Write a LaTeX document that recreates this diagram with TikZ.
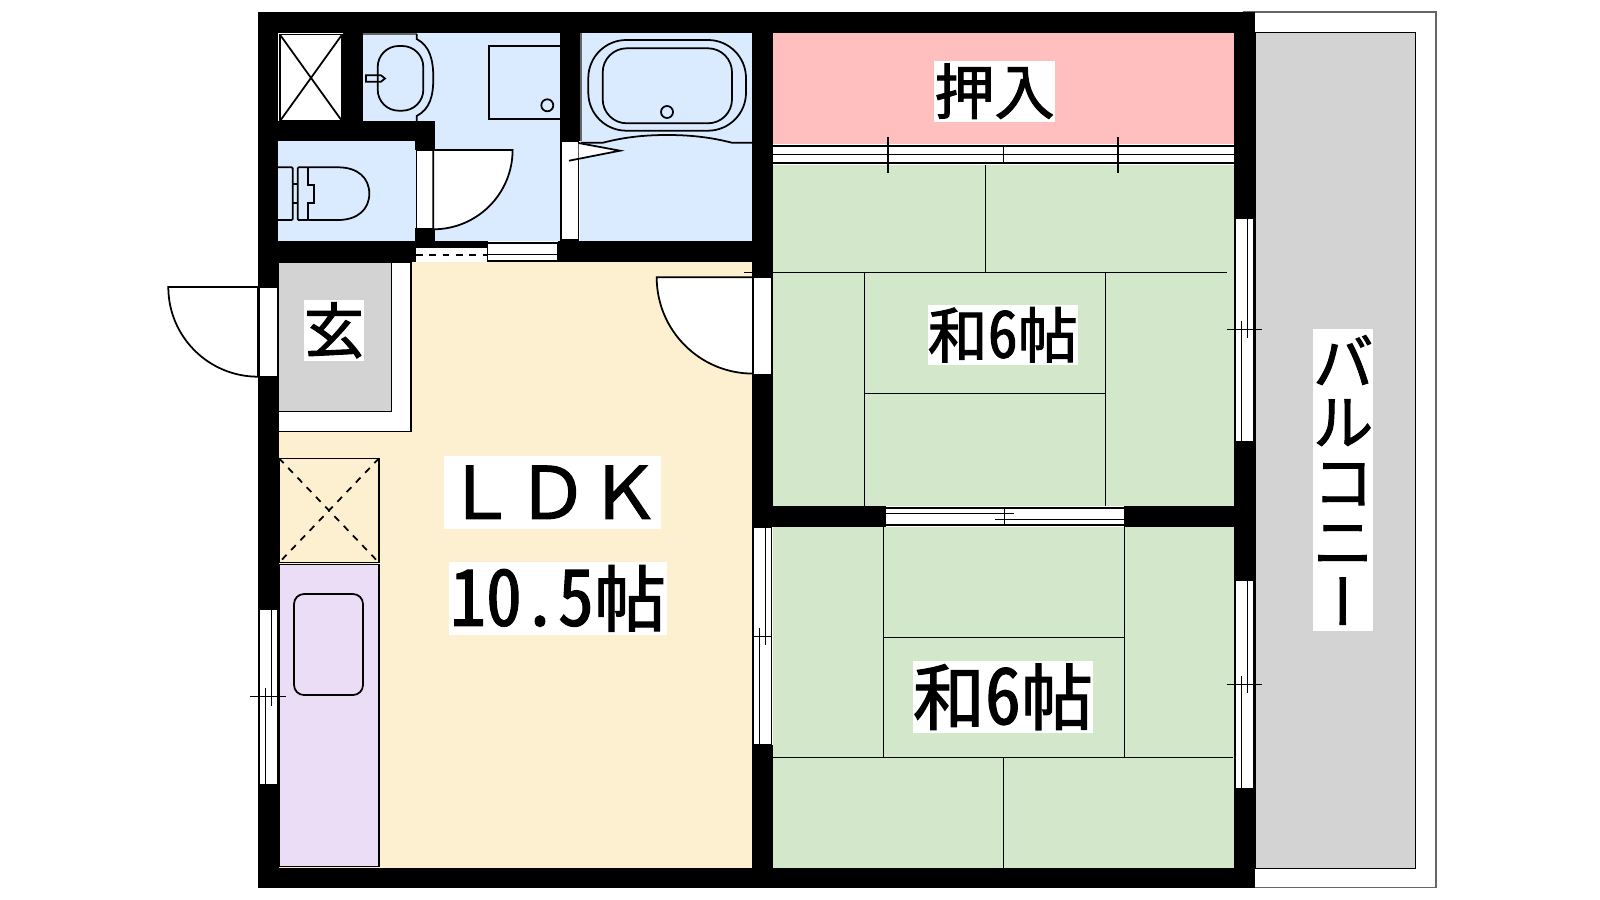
\documentclass[tikz,border=0pt]{standalone}
\usepackage{fontspec}
\setmainfont[FakeBold=1.6]{Noto Sans CJK JP}
\newfontfamily\cjkhalf[CharacterWidth=Half,FakeBold=1.6]{Noto Sans CJK JP}
\newfontfamily\cjkvert[RawFeature=+vert,FakeBold=1.6]{Noto Sans CJK JP}
\usetikzlibrary{calc}
\definecolor{wetblue}{HTML}{DBEBFF}
\definecolor{closetpink}{HTML}{FFBFBF}
\definecolor{tatamigreen}{HTML}{D3E8CB}
\definecolor{floorbeige}{HTML}{FDF0D0}
\definecolor{kitchenlilac}{HTML}{ECDDF6}
\definecolor{entrygray}{HTML}{D3D3D3}
\def\fsmall{\fontsize{17.07pt}{17.07pt}\selectfont}
\def\flarge{\fontsize{20.49pt}{20.49pt}\selectfont}
\def\hdigit#1{\scalebox{1}[1.08]{\cjkhalf #1}}
\tikzset{
	wall/.style={fill=black,draw=none},
	thin line/.style={line width=0.4pt},
	fixture/.style={line width=0.5pt},
	short dash/.style={dash pattern=on 1.9pt off 1.9pt},
	roomlabel/.style={fill=white,inner sep=0pt,align=center,text=black},
}
% sliding window in a vertical wall: x, top, bottom, y of the crossing, overhang
\def\vwindow(#1:#2:#3:#4:#5){
	\draw[thin line, fill=white] (#1+1, #2) rectangle (#1+19.5, #3);
	\draw[thin line] (#1+7.7, #4-8.5) -- (#1+7.7, #3);
	\draw[thin line] (#1+13.7, #2) -- (#1+13.7, #4+9);
	\draw[thin line] (#1-#5, #4) -- (#1+20+#5, #4);
}
% door leaf: x and y of the hinge, radius, start and end angle
\def\doorleaf(#1:#2:#3:#4:#5){
	\draw[fixture, fill=white] (#1, #2) -- ++(#4:#3) arc (#4:#5:#3) -- cycle;
}

\begin{document}
\begin{tikzpicture}[x=0.01cm, y=-0.01cm]
	%%%%% START %%%%%
	\useasboundingbox (0, 0) rectangle (1600, 900);

	% balcony
	\draw[thin line, draw=black!60] (1244, 12) rectangle (1436, 887.7);
	\draw[thin line, fill=entrygray] (1255, 32.5) rectangle (1415.7, 868.5);

	% floors
	\fill[floorbeige] (278, 262) rectangle (752, 868);
	\fill[wetblue] (362, 33) rectangle (560, 241);
	\fill[wetblue] (278, 141) rectangle (416, 241);
	\fill[wetblue] (580, 33) rectangle (752, 241);
	\fill[closetpink] (773, 33) rectangle (1234, 144);
	\fill[tatamigreen] (773, 165) rectangle (1234, 506);
	\fill[tatamigreen] (773, 527) rectangle (1234, 868);

	% entry and kitchen
	\draw[thin line, fill=white] (278, 262) rectangle (411, 431.3);
	\draw[thin line, fill=entrygray] (278, 262) rectangle (391.7, 411.7);
	\draw[thin line] (279, 458.3) rectangle (379, 562.7);
	\draw[fixture, short dash] (279, 458.3) -- (379, 562.7);
	\draw[fixture, short dash] (379, 458.3) -- (279, 562.7);
	\draw[thin line, fill=kitchenlilac] (279, 564.3) rectangle (379, 866.3);
	\draw[fixture, rounded corners=0.1cm] (294, 594) rectangle (363, 695);

	% tatami joints, upper room
	\draw[thin line] (744, 272.6) -- (1226.7, 272.6);
	\draw[thin line] (985.7, 165) -- (985.7, 272.6);
	\draw[thin line] (864.3, 272.6) -- (864.3, 506);
	\draw[thin line] (1105.3, 272.6) -- (1105.3, 506);
	\draw[thin line] (864.3, 393.3) -- (1105.3, 393.3);

	% tatami joints, lower room
	\draw[thin line] (883.3, 527) -- (883.3, 757.7);
	\draw[thin line] (1124.3, 527) -- (1124.3, 757.7);
	\draw[thin line] (883.3, 637.3) -- (1124.3, 637.3);
	\draw[thin line] (773, 757.7) -- (1233, 757.7);
	\draw[thin line] (1003.7, 757.7) -- (1003.7, 868);

	% walls
	\fill[wall] (258, 12) rectangle (1255, 33);
	\fill[wall] (258, 868) rectangle (1255, 888);
	\fill[wall] (258, 12) rectangle (278, 287);
	\fill[wall] (258, 377) rectangle (279, 609.3);
	\fill[wall] (258, 785) rectangle (279, 888);
	\fill[wall] (1234, 12) rectangle (1255, 218);
	\fill[wall] (1234, 442) rectangle (1255, 580);
	\fill[wall] (1234, 789) rectangle (1255, 888);
	\fill[wall] (342.7, 33) rectangle (362.7, 121);
	\fill[wall] (278, 121) rectangle (435, 141);
	\fill[wall] (415, 141) rectangle (435, 150);
	\fill[wall] (415, 228) rectangle (435, 241);
	\fill[wall] (278, 241) rectangle (416, 262);
	\fill[wall] (416, 241) rectangle (488, 248);
	\fill[wall] (558, 241) rectangle (773, 262);
	\fill[wall] (560, 33) rectangle (580.7, 141);
	\fill[wall] (752, 33) rectangle (773, 278);
	\fill[wall] (752, 375) rectangle (773, 527);
	\fill[wall] (752, 745) rectangle (773, 888);
	\fill[wall] (752, 506) rectangle (886, 527);
	\fill[wall] (1124, 506) rectangle (1234, 527);

	% shaft
	\draw[thin line, fill=white] (280, 34.7) rectangle (342, 121);
	\draw[fixture] (280, 34.7) -- (342, 121);
	\draw[fixture] (342, 34.7) -- (280, 121);

	% washroom
	\draw[thin line, draw=black!60] (362.7, 34) -- (416.7, 34);
	\draw[fixture] (416.7, 34) -- (416.7, 39) .. controls (430, 46) and (433.3, 60) .. (433.3, 78)
		.. controls (433.3, 96) and (430, 109) .. (416.7, 116) -- (416.7, 121);
	\draw[fixture, rounded corners=0.21cm] (377.7, 46) rectangle (423.3, 110.7);
	\draw[fixture] (366, 75.3) -- (381, 75.3) -- (385, 78.5) -- (381, 81.7) -- (366, 81.7) -- cycle;
	\draw[fixture] (560, 46) -- (489.3, 46) -- (489.3, 119.3) -- (560, 119.3);
	\draw[fixture] (547.3, 105.3) circle (6);

	% toilet
	\draw[fixture, rounded corners=0.01cm] (278, 167.3) -- (292.7, 167.3) -- (292.7, 220) -- (278, 220);
	\draw[fixture] (292.7, 184) -- (297.7, 184);
	\draw[fixture] (292.7, 202.7) -- (297.7, 202.7);
	\draw[fixture, rounded corners=0.01cm] (308.3, 167.3) -- (297.7, 167.3) -- (297.7, 220) -- (308.3, 220);
	\draw[fixture] (308.3, 167.3) -- (308.3, 185.3) -- (313.7, 185.3) -- (313.7, 202.7) -- (308.3, 202.7) -- (308.3, 220);
	\draw[fixture] (308.3, 167.3) -- (338, 167.3) .. controls (358, 167.3) and (369.3, 178) .. (369.3, 193.7)
		.. controls (369.3, 209) and (358, 220) .. (338, 220) -- (308.3, 220);

	% bath
	\draw[thin line, draw=black!60] (581, 33) -- (581, 141);
	\draw[fixture, rounded corners=0.38cm] (588.3, 40) rectangle (746, 130.7);
	\draw[fixture, rounded corners=0.24cm] (602.7, 48.3) rectangle (732, 123.3);
	\draw[fixture] (667, 112) circle (6);
	\draw[fixture] (581, 142.7) -- (603, 142.7) .. controls (625, 137) and (645, 135) .. (667, 135)
		.. controls (689, 135) and (710, 137) .. (731.7, 142.7) -- (752, 142.7);

	% door to bath, folding
	\draw[thin line, fill=white] (561, 141) rectangle (578.5, 240);
	\fill[white] (578.5, 143) -- (620, 150.7) -- (578.5, 158.8) -- cycle;
	\draw[fixture] (578.5, 143) -- (620, 150.7) -- (569, 160.7);

	% door to toilet
	\draw[thin line, fill=white] (416.7, 150) rectangle (433.3, 228.3);
	\doorleaf(433.3:150:79.3:0:90);

	% sliding door to LDK
	\fill[white] (416, 248) rectangle (488, 261);
	\draw[fixture, short dash] (416, 254.7) -- (488, 254.7);
	\draw[thin line, fill=white] (487.7, 243) rectangle (558, 261);
	\draw[thin line] (487.7, 254.7) -- (558, 254.7);

	% entry door
	\draw[thin line, fill=white] (259.5, 287) rectangle (278, 377);
	\doorleaf(258:287:89.7:180:90);

	% door to upper room
	\draw[thin line, fill=white] (753, 277.3) rectangle (772, 375);
	\doorleaf(753:277.3:96.3:180:90);

	% closet front
	\fill[white] (773, 144) rectangle (1234, 165);
	\draw[thin line] (773, 146) -- (1234, 146);
	\draw[thin line] (773, 154.5) -- (1234, 154.5);
	\draw[thin line] (773, 163) -- (1234, 163);
	\draw[fixture] (888, 137) -- (888, 173);
	\draw[fixture] (1118.3, 137) -- (1118.3, 173);
	\draw[thin line] (1003.5, 146) -- (1003.5, 163);

	% windows
	\vwindow(1234:218:442:329.3:7.5);
	\vwindow(1234:580:789:684.3:7.5);
	\vwindow(258:609.3:785:696.7:8);
	\vwindow(752:527:745:636.3:0);

	% window between the rooms
	\fill[white] (886, 506) rectangle (1124, 527);
	\draw[thin line] (886, 508) -- (1124, 508);
	\draw[thin line] (886, 525) -- (1124, 525);
	\draw[thin line] (886, 513.3) -- (1014, 513.3);
	\draw[thin line] (995, 519.3) -- (1124, 519.3);
	\draw[thin line] (1004.3, 508) -- (1004.3, 525);

	% labels
	\node[roomlabel, font=\fsmall, minimum width=1.2cm, minimum height=0.607cm] (oshiire) at (994.5, 91.3) {押入};
	\node[roomlabel, font=\fsmall, minimum width=0.6cm, minimum height=0.607cm] (genkan) at (334, 330.3) {玄};
	\node[roomlabel, font=\flarge, minimum width=2.17cm, minimum height=0.727cm] (ldk) at (552.5, 492.3) {ＬＤＫ};
	\node[roomlabel, font=\flarge, minimum width=2.18cm, minimum height=0.733cm] (ldksize) at (558, 598.3) {\hdigit{10.5}帖};
	\node[roomlabel, font=\fsmall, minimum width=1.5cm, minimum height=0.597cm] (upperroom) at (1002.8, 334.8) {和\hdigit{6}帖};
	\node[roomlabel, font=\flarge, minimum width=1.8cm, minimum height=0.717cm] (lowerroom) at (1003, 696.8) {和\hdigit{6}帖};
	\node[roomlabel, font=\fsmall, minimum width=0.6cm, minimum height=3.02cm] (balcony) at (1343.2, 480) {バ\\ル\\コ\\ニ\\{\cjkvert ー}};
	%%%%% END %%%%%
\end{tikzpicture}
\end{document}
